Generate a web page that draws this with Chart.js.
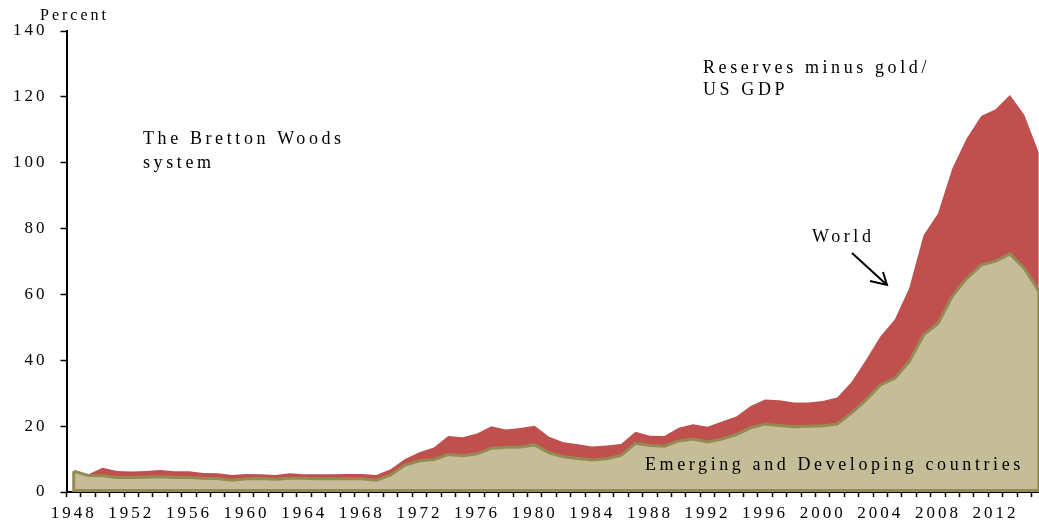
<!DOCTYPE html>
<html>
<head>
<meta charset="utf-8">
<script src="https://cdn.jsdelivr.net/npm/chart.js@4"></script>
<style>
  html, body { margin: 0; padding: 0; background: #fff; overflow: hidden; }
  /* a bit wider than the window: the last year is cut at the right edge, as in the source */
  #wrap { position: relative; width: 1048px; height: 525px; }
</style>
</head>
<body>
<div id="wrap"><canvas id="chart"></canvas></div>
<script>
// Reserves minus gold / US GDP, percent
const years = [
  1948, 1949, 1950, 1951, 1952, 1953, 1954, 1955, 1956, 1957,
  1958, 1959, 1960, 1961, 1962, 1963, 1964, 1965, 1966, 1967,
  1968, 1969, 1970, 1971, 1972, 1973, 1974, 1975, 1976, 1977,
  1978, 1979, 1980, 1981, 1982, 1983, 1984, 1985, 1986, 1987,
  1988, 1989, 1990, 1991, 1992, 1993, 1994, 1995, 1996, 1997,
  1998, 1999, 2000, 2001, 2002, 2003, 2004, 2005, 2006, 2007,
  2008, 2009, 2010, 2011, 2012, 2013, 2014, 2015
];

const world = [
  6.3, 5.3, 7.4, 6.4, 6.2, 6.4, 6.7, 6.3, 6.3, 5.8,
  5.7, 5.2, 5.5, 5.4, 5.2, 5.7, 5.4, 5.4, 5.4, 5.5,
  5.5, 5.2, 6.9, 10.0, 12.1, 13.5, 17.0, 16.6, 17.8, 20.0,
  19.0, 19.4, 20.1, 16.8, 15.1, 14.5, 13.8, 14.1, 14.6, 18.3,
  17.1, 17.0, 19.5, 20.6, 19.8, 21.4, 22.9, 26.1, 28.1, 27.9,
  27.2, 27.2, 27.6, 28.7, 33.4, 40.1, 47.2, 52.4, 61.9, 78.0,
  84.6, 98.3, 107.4, 114.2, 116.2, 120.6, 114.5, 103.0
];

const emerging = [
  6.3, 5.0, 4.9, 4.4, 4.4, 4.5, 4.6, 4.4, 4.4, 4.2,
  4.1, 3.6, 4.0, 4.1, 3.9, 4.2, 4.2, 4.0, 4.0, 4.1,
  4.0, 3.6, 5.2, 8.2, 9.5, 9.9, 11.4, 11.0, 11.6, 13.3,
  13.6, 13.7, 14.3, 11.9, 10.7, 10.2, 9.7, 10.1, 11.1, 14.8,
  14.1, 13.9, 15.5, 16.1, 15.2, 16.1, 17.4, 19.5, 20.6, 20.2,
  19.8, 20.0, 20.1, 20.6, 24.0, 27.9, 32.5, 34.5, 39.6, 47.7,
  51.2, 59.5, 64.9, 68.9, 70.1, 72.3, 67.9, 61.0
];

const yearLabels = ['1948', '1952', '1956', '1960', '1964', '1968', '1972', '1976',
                    '1980', '1984', '1988', '1992', '1996', '2000', '2004', '2008', '2012'];
const yMin = 0, yMax = 140, yStep = 20;

const RED = '#C0504D';
const TAN = '#C4BD97';
const OLIVE = '#948A54';
const SERIF = '"Liberation Serif", "DejaVu Serif", serif';

// text placed on the chart
const notes = [
  { text: 'Percent', x: 40, y: 20, size: 16, spacing: 3 },
  { text: 'The Bretton Woods', x: 143, y: 144, size: 18, spacing: 3.6 },
  { text: 'system', x: 143, y: 168, size: 18, spacing: 3.6 },
  { text: 'Reserves minus gold/', x: 703, y: 73, size: 18, spacing: 3.6 },
  { text: 'US GDP', x: 703, y: 95, size: 18, spacing: 3.6 },
  { text: 'World', x: 812, y: 242, size: 18, spacing: 3.6 },
  { text: 'Emerging and Developing countries', x: 645, y: 470, size: 18, spacing: 3.6 }
];

const decor = {
  id: 'decor',
  beforeDraw(chart) {
    // spaced-out lettering for the tick labels
    chart.ctx.letterSpacing = '3px';
  },
  afterDatasetsDraw(chart) {
    // close the olive outline of the emerging area along the base and both ends
    const pts = chart.getDatasetMeta(0).data;
    const base = chart.scales.y.getPixelForValue(0);
    const first = pts[0], last = pts[pts.length - 1];
    const ctx = chart.ctx;
    ctx.save();
    ctx.strokeStyle = OLIVE;
    ctx.lineWidth = 3;
    ctx.beginPath();
    ctx.moveTo(first.x, first.y);
    ctx.lineTo(first.x, base - 1.5);
    ctx.lineTo(last.x, base - 1.5);
    ctx.lineTo(last.x, last.y);
    ctx.stroke();
    ctx.restore();
  },
  afterDraw(chart) {
    const ctx = chart.ctx;
    ctx.save();
    ctx.fillStyle = '#000';
    ctx.textAlign = 'left';
    ctx.textBaseline = 'alphabetic';
    notes.forEach(n => {
      ctx.font = n.size + 'px ' + SERIF;
      ctx.letterSpacing = n.spacing + 'px';
      ctx.fillText(n.text, n.x, n.y);
    });
    // arrow pointing at the world area
    ctx.strokeStyle = '#000';
    ctx.lineWidth = 2;
    ctx.beginPath();
    ctx.moveTo(852, 253);
    ctx.lineTo(887, 285);
    ctx.moveTo(870, 281);
    ctx.lineTo(887, 285);
    ctx.lineTo(883, 272);
    ctx.stroke();
    ctx.restore();
  }
};

const ctx = document.getElementById('chart').getContext('2d');
new Chart(ctx, {
  type: 'line',
  data: {
    labels: years,
    datasets: [
      {
        label: 'Emerging and Developing countries',
        data: emerging,
        borderColor: OLIVE,
        borderWidth: 3,
        backgroundColor: TAN,
        fill: 'origin',
        pointRadius: 0,
        tension: 0
      },
      {
        label: 'World',
        data: world,
        borderWidth: 0,
        borderColor: RED,
        backgroundColor: RED,
        fill: 'origin',
        pointRadius: 0,
        tension: 0
      }
    ]
  },
  options: {
    responsive: true,
    maintainAspectRatio: false,
    animation: false,
    layout: { padding: { top: 31, right: 2, left: 0, bottom: 0 } },
    plugins: {
      legend: { display: false },
      tooltip: { enabled: false }
    },
    scales: {
      x: {
        type: 'category',
        offset: true,
        z: 1,
        grid: {
          offset: true,
          drawOnChartArea: false,
          drawTicks: true,
          tickLength: 5,
          tickColor: '#000',
          tickWidth: 1.5
        },
        border: { display: true, color: '#000', width: 2 },
        ticks: {
          autoSkip: false,
          maxRotation: 0,
          minRotation: 0,
          padding: 6,
          color: '#000',
          font: { family: SERIF, size: 17 },
          callback: function(value) {
            const lab = String(this.getLabelForValue(value));
            return yearLabels.includes(lab) ? lab : '';
          }
        },
        afterFit(scale) { scale.height = 33; }
      },
      y: {
        min: yMin,
        max: yMax,
        z: 1,
        grid: {
          drawOnChartArea: false,
          drawTicks: true,
          tickLength: 6,
          tickColor: '#000',
          tickWidth: 1.5
        },
        border: { display: true, color: '#000', width: 2 },
        ticks: {
          stepSize: yStep,
          padding: 13,
          color: '#000',
          font: { family: SERIF, size: 17 }
        },
        afterFit(scale) { scale.width = 66.5; }
      }
    }
  },
  plugins: [decor]
});
</script>
</body>
</html>
